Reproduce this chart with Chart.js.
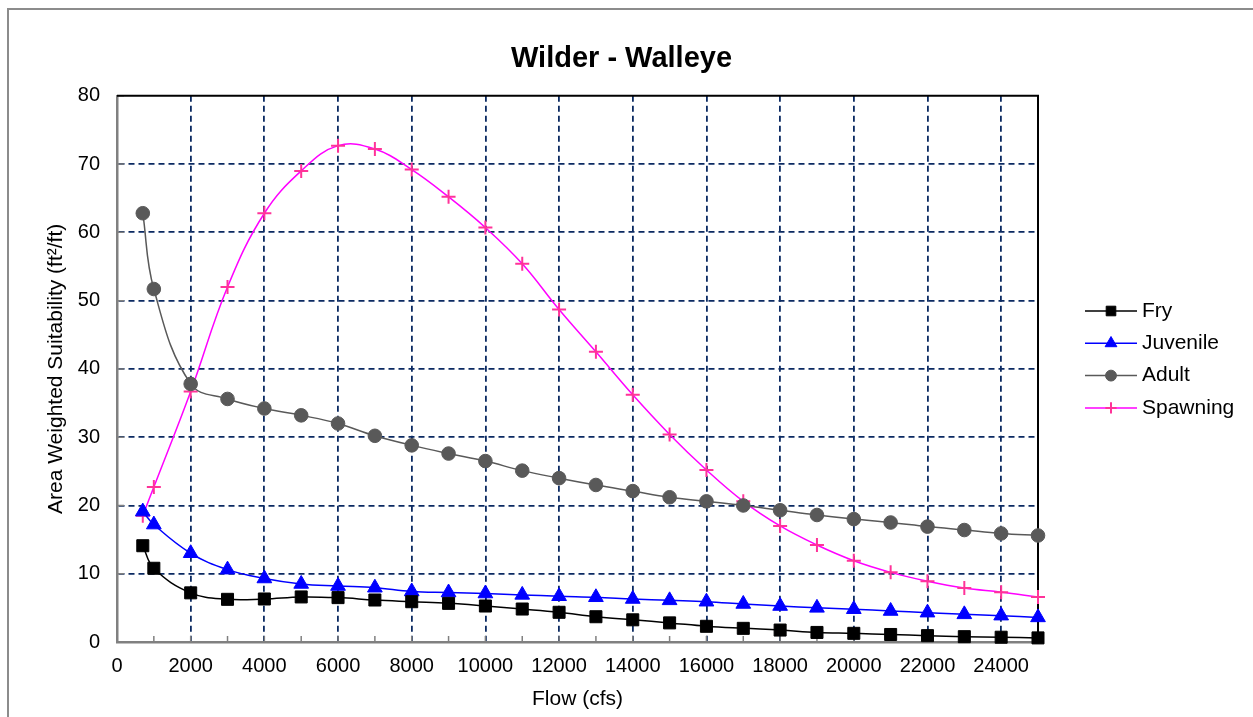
<!DOCTYPE html>
<html>
<head>
<meta charset="utf-8">
<title>Wilder - Walleye</title>
<script src="https://cdn.jsdelivr.net/npm/chart.js@4.4.1/dist/chart.umd.min.js"></script>
<style>
    html, body { margin: 0; padding: 0; background: #fff; overflow: hidden; }
</style>
</head>
<body>
<canvas id="chart" width="1253" height="717"></canvas>
<script>
// flow (cfs) and area weighted suitability (ft2/ft)
const flows = [700, 1000, 2000, 3000, 4000, 5000, 6000, 7000, 8000, 9000, 10000, 11000, 12000,
    13000, 14000, 15000, 16000, 17000, 18000, 19000, 20000, 21000, 22000, 23000, 24000, 25000];
const fry = [14.1, 10.8, 7.2, 6.25, 6.3, 6.6, 6.5, 6.15, 5.9, 5.66, 5.27, 4.83, 4.35,
    3.7, 3.25, 2.8, 2.3, 2.0, 1.75, 1.4, 1.27, 1.1, 0.93, 0.78, 0.7, 0.6];
const juvenile = [19.1, 17.2, 13.0, 10.6, 9.3, 8.5, 8.2, 7.95, 7.4, 7.25, 7.1, 6.9, 6.7,
    6.55, 6.3, 6.1, 5.9, 5.57, 5.27, 5.0, 4.8, 4.54, 4.3, 4.05, 3.86, 3.6];
const adult = [62.8, 51.7, 37.8, 35.6, 34.2, 33.2, 32.0, 30.2, 28.8, 27.6, 26.5, 25.1, 24.0,
    23.0, 22.1, 21.2, 20.6, 20.0, 19.3, 18.6, 18.0, 17.5, 16.9, 16.4, 15.9, 15.6];
const spawning = [18.5, 22.7, 36.7, 52.0, 62.8, 69.0, 72.7, 72.2, 69.2, 65.2, 60.7, 55.4, 48.7,
    42.5, 36.2, 30.4, 25.2, 20.6, 17.0, 14.2, 11.9, 10.2, 8.9, 7.9, 7.3, 6.6];

const GRID = "#0b2a62";
const AXIS = "#808080";

Chart.defaults.font.family = "'Liberation Sans', Arial, sans-serif";
Chart.defaults.color = "#000";

const toPoints = (ys) => ys.map((y, i) => ({ x: flows[i], y: y }));

function series(label, values, line, marker, style, radius, width) {
    return {
        label: label,
        data: toPoints(values),
        borderColor: line,
        borderWidth: 1.5,
        tension: 0.4,
        pointStyle: style,
        pointRadius: radius,
        pointHoverRadius: radius,
        pointBackgroundColor: marker,
        pointBorderColor: marker,
        pointBorderWidth: width,
        clip: false,
    };
}

// outer frame, inward tick marks and the black top/right plot edges
const framePlugin = {
    id: "frame",
    beforeDraw(chart) {
        const ctx = chart.ctx;
        ctx.save();
        ctx.strokeStyle = "#8c8c8c";
        ctx.lineWidth = 2;
        ctx.strokeRect(8, 9, 1400, 900);
        ctx.restore();
    },
    beforeDatasetsDraw(chart) {
        const { ctx, chartArea: a, scales } = chart;
        ctx.save();
        ctx.strokeStyle = AXIS;
        ctx.lineWidth = 1.5;
        ctx.beginPath();
        scales.x.ticks.forEach(t => {
            const px = scales.x.getPixelForValue(t.value);
            ctx.moveTo(px, a.bottom);
            ctx.lineTo(px, a.bottom - 6);
        });
        scales.y.ticks.forEach(t => {
            const py = scales.y.getPixelForValue(t.value);
            ctx.moveTo(a.left, py);
            ctx.lineTo(a.left + 7, py);
        });
        ctx.stroke();

        ctx.strokeStyle = "#000";
        ctx.lineWidth = 2;
        ctx.beginPath();
        ctx.moveTo(a.left, a.top);
        ctx.lineTo(a.right, a.top);
        ctx.lineTo(a.right, a.bottom);
        ctx.stroke();
        ctx.restore();
    }
};

// Excel style legend: short line with the marker on it
const legendPlugin = {
    id: "sideLegend",
    afterDraw(chart) {
        const ctx = chart.ctx;
        const x0 = chart.chartArea.right + 47;
        ctx.save();
        ctx.font = "21px 'Liberation Sans', Arial, sans-serif";
        ctx.textBaseline = "middle";
        chart.data.datasets.forEach((ds, i) => {
            const y = 311 + i * 32.3;
            ctx.strokeStyle = ds.borderColor;
            ctx.lineWidth = 1.5;
            ctx.beginPath();
            ctx.moveTo(x0, y);
            ctx.lineTo(x0 + 52, y);
            ctx.stroke();

            ctx.fillStyle = ds.pointBackgroundColor;
            ctx.strokeStyle = ds.pointBorderColor;
            ctx.lineWidth = ds.pointBorderWidth;
            Chart.helpers.drawPoint(ctx, {
                pointStyle: ds.pointStyle,
                radius: ds.pointRadius * 0.8,
                borderWidth: ds.pointBorderWidth,
                rotation: 0,
            }, x0 + 26, y);

            ctx.fillStyle = "#000";
            ctx.fillText(ds.label, x0 + 57, y);
        });
        ctx.restore();
    }
};

new Chart(document.getElementById("chart").getContext("2d"), {
    type: "line",
    data: {
        datasets: [
            series("Fry", fry, "#000000", "#000000", "rect", 8.5, 1),
            series("Juvenile", juvenile, "#0000ff", "#0000ff", "triangle", 8.5, 1),
            series("Adult", adult, "#595959", "#595959", "circle", 6.8, 1),
            series("Spawning", spawning, "#ff00ff", "#ff3399", "cross", 7, 2),
        ]
    },
    options: {
        responsive: false,
        animation: false,
        layout: { padding: { left: 0, right: 10, top: 0, bottom: 0 } },
        plugins: {
            legend: { display: false },
            tooltip: { enabled: false },
            title: {
                display: true,
                text: "Wilder - Walleye",
                color: "#000",
                font: { size: 29, weight: "bold" },
                padding: { top: 42, bottom: 19 },
            },
        },
        scales: {
            x: {
                type: "linear",
                min: 0,
                max: 25000,
                afterFit: (s) => { s.height = 75; },
                ticks: {
                    stepSize: 1000,
                    autoSkip: false,
                    maxRotation: 0,
                    padding: 12,
                    font: { size: 20 },
                    callback: (v) => (v % 2000 === 0 ? String(v) : ""),
                },
                grid: {
                    drawTicks: false,
                    lineWidth: 1.8,
                    color: (c) => (c.tick && c.tick.value % 2000 === 0 && c.tick.value > 0 ? GRID : "transparent"),
                },
                border: { display: true, color: AXIS, width: 2.5, dash: [6, 4] },
                title: {
                    display: true,
                    text: "Flow (cfs)",
                    font: { size: 21 },
                    padding: { top: 0, bottom: 5 },
                },
            },
            y: {
                min: 0,
                max: 80,
                afterFit: (s) => { s.width = 117; },
                ticks: {
                    stepSize: 10,
                    padding: 17,
                    font: { size: 20 },
                },
                grid: {
                    drawTicks: false,
                    lineWidth: 1.8,
                    color: (c) => (c.tick && c.tick.value > 0 && c.tick.value < 80 ? GRID : "transparent"),
                },
                border: { display: true, color: AXIS, width: 2.5, dash: [6, 4] },
                title: {
                    display: true,
                    text: "Area Weighted Suitability (ft²/ft)",
                    font: { size: 21 },
                    padding: { top: 44, bottom: 0 },
                },
            },
            // empty axis that only keeps room for the legend on the right
            room: {
                type: "linear",
                position: "right",
                display: true,
                afterFit: (s) => { s.width = 205; },
                ticks: { display: false },
                grid: { display: false, drawTicks: false },
                border: { display: false },
            },
        }
    },
    plugins: [framePlugin, legendPlugin],
});
</script>
</body>
</html>
